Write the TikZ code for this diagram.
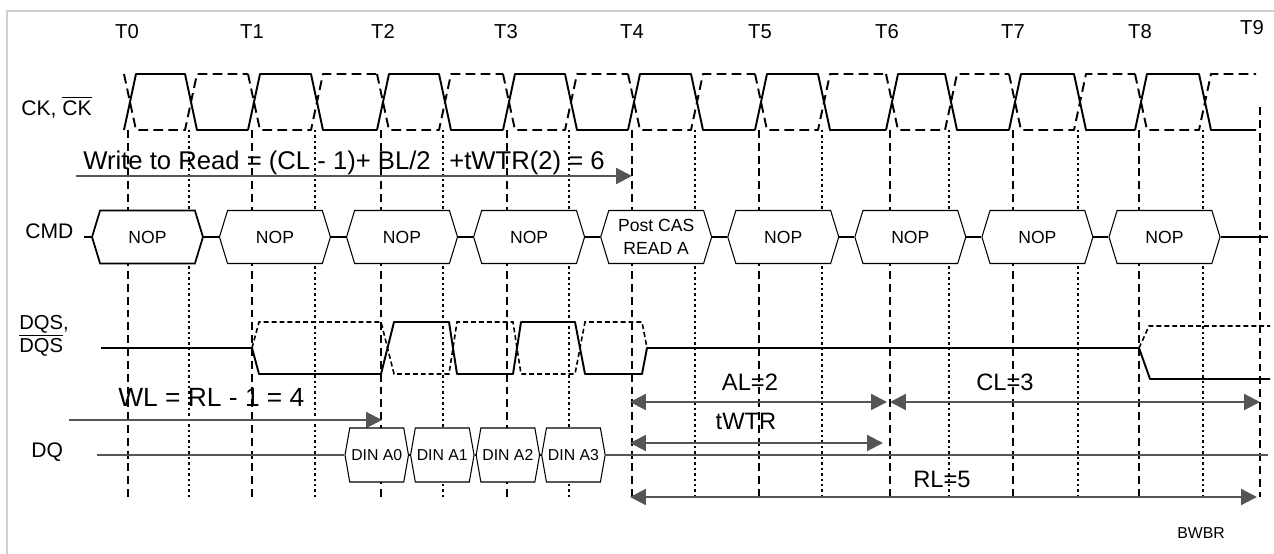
\documentclass[tikz,border=0pt]{standalone}
\usepackage{fontspec}
\setmainfont{Liberation Sans}
\usetikzlibrary{positioning}
\usetikzlibrary{arrows.meta}
\usetikzlibrary{shapes.symbols}
\definecolor{arrowgray}{RGB}{85,85,85}
\definecolor{framegray}{RGB}{208,208,208}
\tikzset{
  cmdbox/.style={signal,signal to=east and west,signal pointer angle=146,
                 draw,fill=white,line width=0.6pt,inner sep=0pt,
                 minimum width=2.22cm,minimum height=1.06cm,align=center,
                 font=\fontsize{10}{13}\selectfont},
  dinbox/.style={signal,signal to=east and west,signal pointer angle=160,
                 draw,fill=white,line width=0.6pt,inner sep=0pt,
                 minimum width=1.27cm,minimum height=1.08cm,
                 font=\fontsize{9}{11}\selectfont},
  clocklabel/.style={anchor=base,font=\fontsize{11.5}{13}\selectfont},
  siglabel/.style={anchor=base west,inner sep=0pt,font=\fontsize{12}{14}\selectfont},
  eqlabel/.style={anchor=base west,inner sep=0pt,font=\fontsize{14.6}{17}\selectfont},
  spanlabel/.style={anchor=base,inner sep=0pt,font=\fontsize{13.5}{15}\selectfont},
  ckline/.style={line width=1.1pt,line join=round},
  cknline/.style={ckline,dash pattern=on 5.5pt off 3pt},
  dqsline/.style={line width=1.1pt,line join=round},
  dqsnline/.style={line width=0.9pt,dash pattern=on 2.8pt off 1.7pt},
  dqline/.style={line width=0.8pt,draw=arrowgray},
  cycleline/.style={line width=0.9pt,dash pattern=on 4.5pt off 2.8pt},
  halfline/.style={line width=0.9pt,dash pattern=on 1.4pt off 1.7pt},
  timearrow/.style={-{Triangle[length=9pt,width=9pt]},line width=1.2pt,draw=arrowgray},
  spanarrow/.style={{Triangle[length=9pt,width=9pt]}-{Triangle[length=9pt,width=9pt]},
                    line width=1.2pt,draw=arrowgray},
}

\begin{document}
\begin{tikzpicture}[x=0.02cm,y=-0.02cm]
    \useasboundingbox (0,0) rectangle (1274,554);
    \draw[framegray,line width=1pt] (7,554) -- (7,11) -- (1274,11);

    % Clock numbers
    \foreach \t/\x in {T0/127,T1/252,T2/383,T3/506,T4/632,T5/760,T6/887,T7/1013,T8/1140}
        \node[clocklabel] (lbl\t) at (\x,39) {\t};
    \node[clocklabel] (lblT9) at (1252,35) {T9};

    % Cycle and half cycle lines
    \foreach \x in {128,252,381,507,632,759,890,1013,1139}
        \draw[cycleline] (\x,130) -- (\x,497);
    \draw[cycleline] (1260,107) -- (1260,497);
    \foreach \x in {189,315,443,569,695,822,949,1078,1203}
        \draw[halfline] (\x,130) -- (\x,497);

    % CK and CK#
    \node[siglabel] (cklbl) at (21,115) {CK, $\overline{\mbox{CK}}$};
    \foreach \a/\b/\c in {128/189/252,252/315/381,381/443/507,507/569/632,632/695/759,
                          759/822/890,890/949/1013,1013/1078/1139,1139/1203/1260} {
        \draw[ckline] (\a-4,130) -- (\a+8,74) -- (\b-4,74) -- (\b+8,130) -- (\c-4,130);
        \draw[cknline] (\a-4,74) -- (\a+8,130) -- (\b-4,130) -- (\b+8,74) -- (\c-4,74);
    }

    % Write to read
    \node[eqlabel] (wrlbl) at (83,169) {Write to Read = (CL - 1)+ BL/2\hspace{0.45em} +tWTR(2) = 6};
    \coordinate (wrfrom) at (76,176);
    \coordinate (wrto) at (632,176);
    \draw[timearrow] (wrfrom) -- (wrto);

    % Commands
    \node[siglabel] (cmdlbl) at (25,238) {CMD};
    \node[cmdbox,line width=1pt] (cmd0) at (147.5,237) {NOP};
    \node[cmdbox] (cmd1) [right=0.3cm of cmd0] {NOP};
    \node[cmdbox] (cmd2) [right=0.3cm of cmd1] {NOP};
    \node[cmdbox] (cmd3) [right=0.3cm of cmd2] {NOP};
    \node[cmdbox] (cmd4) [right=0.3cm of cmd3] {Post CAS\\READ A};
    \node[cmdbox] (cmd5) [right=0.3cm of cmd4] {NOP};
    \node[cmdbox] (cmd6) [right=0.3cm of cmd5] {NOP};
    \node[cmdbox] (cmd7) [right=0.3cm of cmd6] {NOP};
    \node[cmdbox] (cmd8) [right=0.3cm of cmd7] {NOP};
    \coordinate (cmdstart) at (84,237);
    \coordinate (cmdend) at (1268,237);
    \draw[line width=0.6pt] (cmdstart) -- (cmd0.west);
    \foreach \p/\q in {0/1,1/2,2/3,3/4,4/5,5/6,6/7,7/8}
        \draw[line width=0.6pt] (cmd\p.east) -- (cmd\q.west);
    \draw[line width=1.1pt] (cmd8.east) -- (cmdend);

    % DQS and DQS#
    \node[siglabel,font=\fontsize{11.5}{13}\selectfont] (dqslbl) at (19,329) {DQS,};
    \node[siglabel,font=\fontsize{11.5}{13}\selectfont] (dqsnlbl) at (19,352) {$\overline{\mbox{DQS}}$};
    \draw[dqsline] (101,348) -- (252,348) -- (259,374) -- (381,374) -- (394,322)
        -- (449,322) -- (457,374) -- (513,374) -- (521,322) -- (575,322)
        -- (585,374) -- (642,374) -- (647,348) -- (1139,348) -- (1150,379) -- (1270,379);
    \draw[dqsnline] (252,348) -- (259,322) -- (381,322) -- (394,374) -- (449,374)
        -- (457,322) -- (513,322) -- (521,374) -- (575,374) -- (585,322)
        -- (642,322) -- (647,348);
    \draw[dqsnline] (1139,348) -- (1149,326) -- (1270,326);

    % Write latency
    \node[eqlabel,font=\fontsize{15}{17}\selectfont] (wllbl) at (118,406) {WL = RL - 1 = 4};
    \coordinate (wlfrom) at (69,420);
    \coordinate (wlto) at (382,420);
    \draw[timearrow] (wlfrom) -- (wlto);

    % Data
    \node[siglabel] (dqlbl) at (31,457) {DQ};
    \node[dinbox] (din0) at (376.75,455) {DIN A0};
    \node[dinbox] (din1) [right=0.02cm of din0] {DIN A1};
    \node[dinbox] (din2) [right=0.02cm of din1] {DIN A2};
    \node[dinbox] (din3) [right=0.02cm of din2] {DIN A3};
    \coordinate (dqstart) at (97,455);
    \coordinate (dqend) at (1268,455);
    \draw[dqline] (dqstart) -- (din0.west);
    \foreach \p/\q in {0/1,1/2,2/3}
        \draw[line width=0.6pt] (din\p.east) -- (din\q.west);
    \draw[dqline] (din3.east) -- (dqend);

    % Latencies
    \coordinate (alfrom) at (630,402);
    \coordinate (alto) at (887,402);
    \coordinate (clfrom) at (890,402);
    \coordinate (clto) at (1260,402);
    \coordinate (twfrom) at (630,443);
    \coordinate (twto) at (883,443);
    \coordinate (rlfrom) at (630,497);
    \coordinate (rlto) at (1257,497);
    \draw[spanarrow] (alfrom) -- (alto);
    \draw[spanarrow] (clfrom) -- (clto);
    \draw[spanarrow] (twfrom) -- (twto);
    \draw[spanarrow] (rlfrom) -- (rlto);
    \node[spanlabel] (allbl) at (750,390) {AL=2};
    \node[spanlabel] (cllbl) at (1005,390) {CL=3};
    \node[spanlabel] (twtrlbl) at (746,429) {tWTR};
    \node[spanlabel] (rllbl) at (942,487) {RL=5};

    \node[anchor=base,inner sep=0pt,font=\fontsize{9}{11}\selectfont] (bwbr) at (1201,538) {BWBR};
\end{tikzpicture}
\end{document}
